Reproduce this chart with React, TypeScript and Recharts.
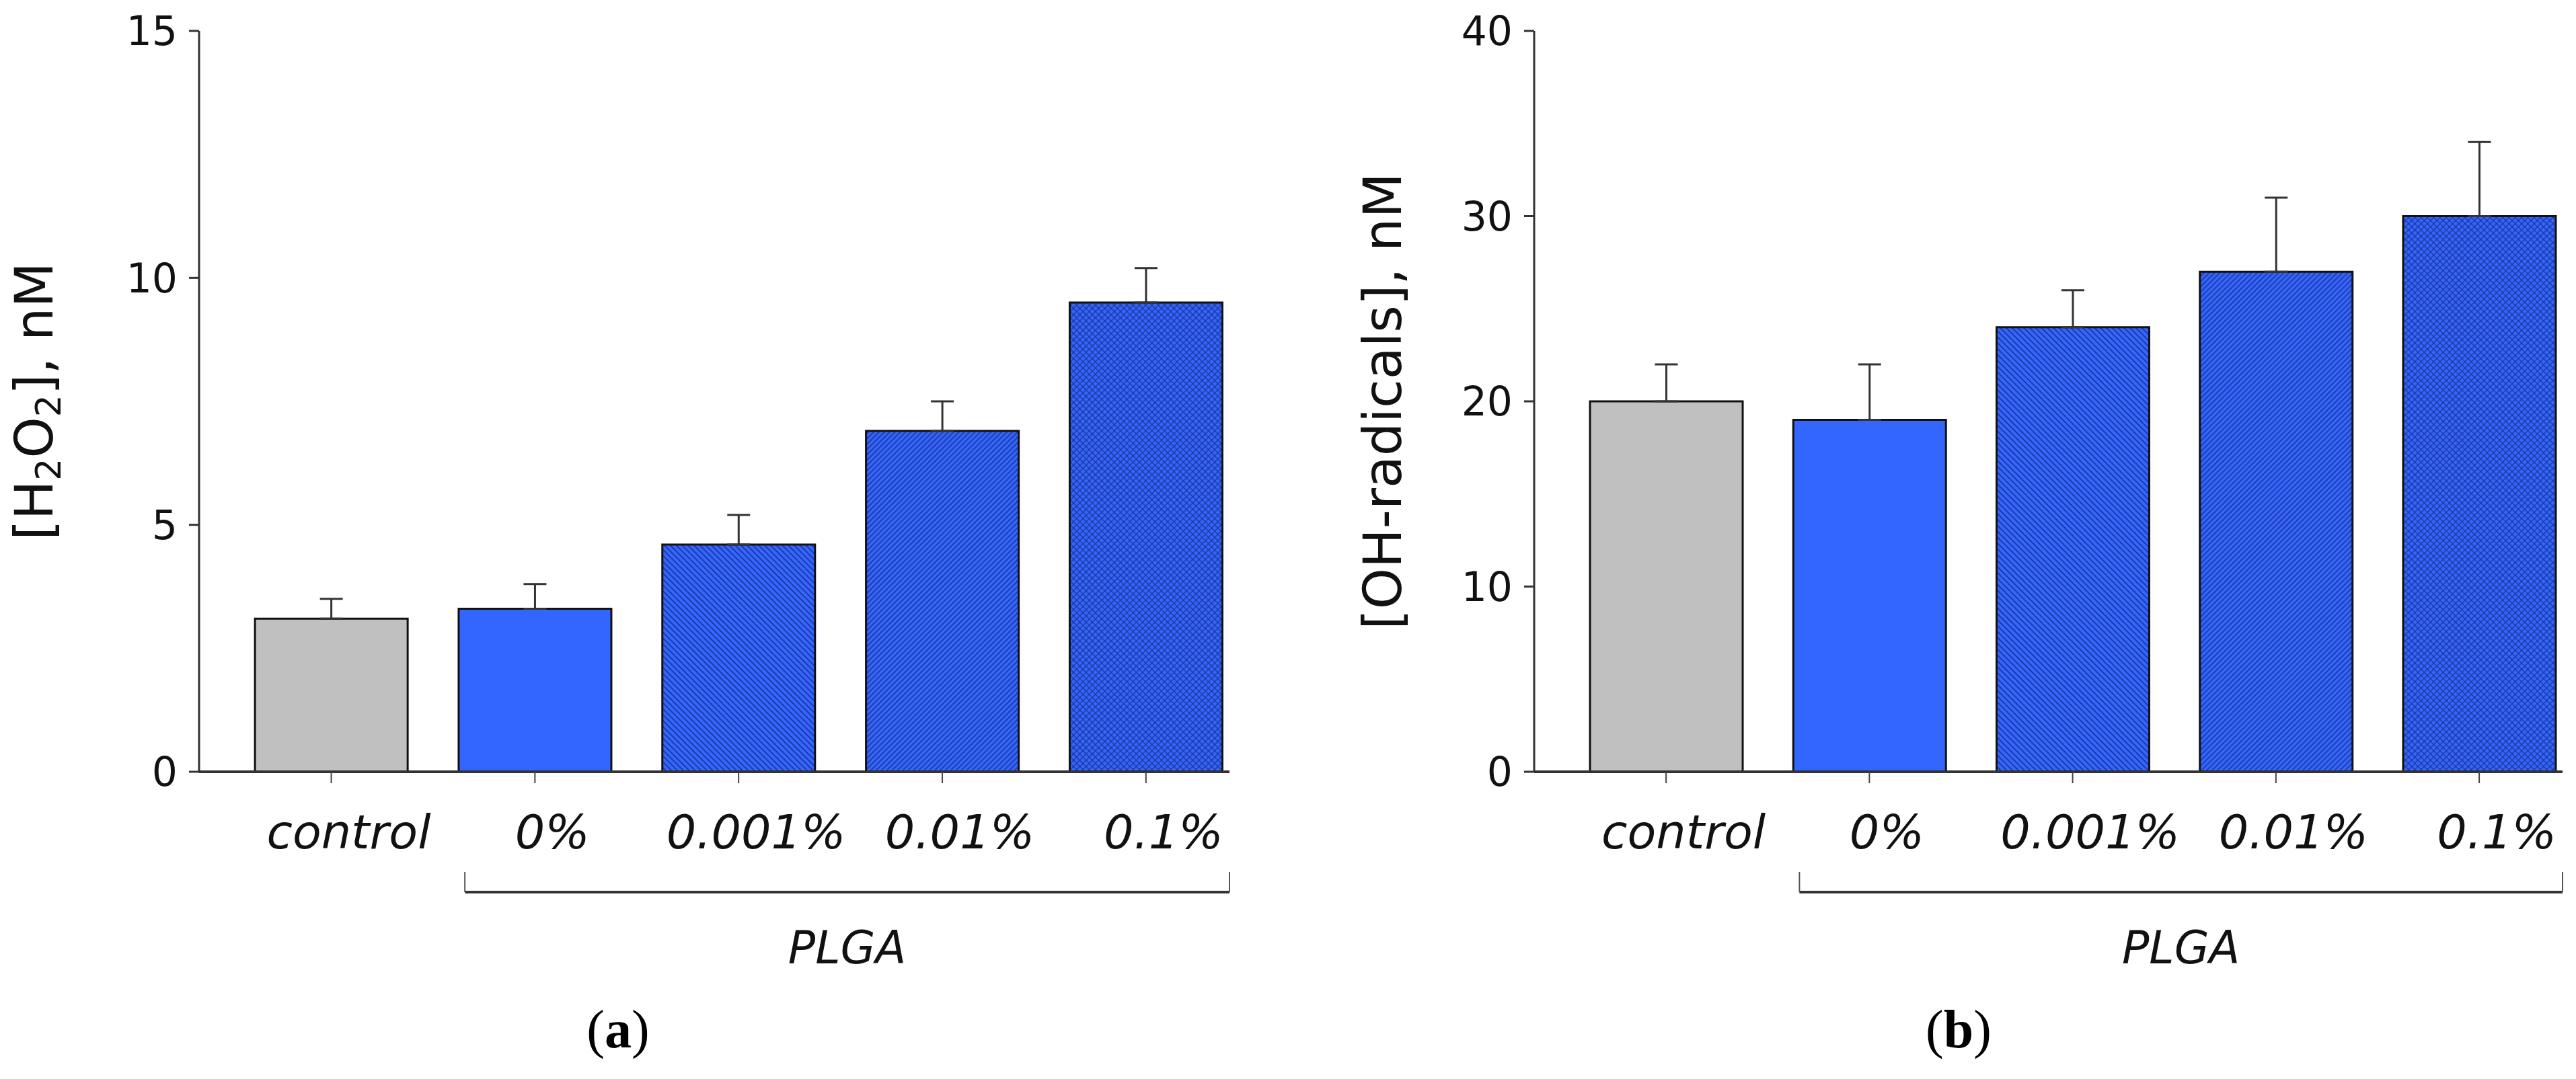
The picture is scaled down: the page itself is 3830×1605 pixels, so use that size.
import React from "react";
import { BarChart, Bar, XAxis, YAxis, Cell, ErrorBar, ReferenceLine, Label } from "recharts";

const categories = ["control", "0%", "0.001%", "0.01%", "0.1%"];
const positions = [0, 1, 2, 3, 4];

const h2o2Values = [3.1, 3.3, 4.6, 6.9, 9.5];
const h2o2Errors = [0.4, 0.5, 0.6, 0.6, 0.7];
const h2o2Ticks = [0, 5, 10, 15];

const ohValues = [20, 19, 24, 27, 30];
const ohErrors = [2, 3, 2, 4, 4];
const ohTicks = [0, 10, 20, 30, 40];

const FONT = "'DejaVu Sans', Verdana, sans-serif";
const BLUE = "#3366ff";
const HATCH = "#1c2f8c";

const CategoryTick = (props: any) => {
  const { x, y, payload } = props;
  return (
    <text
      x={x + 26}
      y={y}
      dy={97}
      textAnchor="middle"
      fontSize={70}
      fontStyle="italic"
      fill="#111"
      fontFamily={FONT}
    >
      {categories[payload.value]}
    </text>
  );
};

interface PanelProps {
  id: string;
  left: number;
  values: number[];
  errors: number[];
  ticks: number[];
  yLabel: React.ReactNode;
  labelDx: number;
  marginLeft: number;
  marginRight: number;
  letter: string;
  letterX: number;
}

const Panel: React.FC<PanelProps> = ({
  id,
  left,
  values,
  errors,
  ticks,
  yLabel,
  labelDx,
  marginLeft,
  marginRight,
  letter,
  letterX,
}) => {
  const data = positions.map((p, i) => ({
    pos: p,
    value: values[i],
    err: [0, errors[i]],
  }));
  const fills = [
    "#c0c0c0",
    BLUE,
    `url(#${id}-down)`,
    `url(#${id}-up)`,
    `url(#${id}-cross)`,
  ];
  const yMax = ticks[ticks.length - 1];
  const bracketY = -yMax * 0.1624;
  const bracketTop = -yMax * 0.1352;

  return (
    <div style={{ position: "absolute", left, top: 0, width: 1915, height: 1605 }}>
      <BarChart
        width={1915}
        height={1605}
        data={data}
        margin={{ top: 46, left: marginLeft, right: marginRight, bottom: 257 }}
      >
        <defs>
          <pattern id={`${id}-down`} patternUnits="userSpaceOnUse" width={6.2} height={6.2} patternTransform="rotate(-45)">
            <rect width={6.2} height={6.2} fill={BLUE} />
            <line x1={1} y1={0} x2={1} y2={6.2} stroke={HATCH} strokeWidth={1.6} />
          </pattern>
          <pattern id={`${id}-up`} patternUnits="userSpaceOnUse" width={5.6} height={5.6} patternTransform="rotate(45)">
            <rect width={5.6} height={5.6} fill={BLUE} />
            <line x1={1} y1={0} x2={1} y2={5.6} stroke={HATCH} strokeWidth={1.5} />
          </pattern>
          <pattern id={`${id}-cross`} patternUnits="userSpaceOnUse" width={6.6} height={6.6} patternTransform="rotate(45)">
            <rect width={6.6} height={6.6} fill={BLUE} />
            <line x1={1} y1={0} x2={1} y2={6.6} stroke={HATCH} strokeWidth={1.2} />
            <line x1={0} y1={1} x2={6.6} y2={1} stroke={HATCH} strokeWidth={1.2} />
          </pattern>
        </defs>
        <XAxis
          type="number"
          dataKey="pos"
          domain={[-0.649, 4.41]}
          allowDataOverflow
          ticks={positions}
          interval={0}
          height={200}
          tickSize={17}
          tickMargin={0}
          tick={<CategoryTick />}
          axisLine={{ stroke: "#333", strokeWidth: 4 }}
          tickLine={{ stroke: "#444", strokeWidth: 2 }}
        />
        <YAxis
          type="number"
          domain={[0, yMax]}
          ticks={ticks}
          interval={0}
          width={200}
          tickSize={15}
          tickMargin={17}
          tick={{ fontSize: 60, fill: "#111", fontFamily: FONT }}
          axisLine={{ stroke: "#333", strokeWidth: 3 }}
          tickLine={{ stroke: "#333", strokeWidth: 3 }}
        >
          <Label
            content={(props: any) => {
              const vb = props.viewBox || { x: 0, y: 0, height: 0 };
              const tx = vb.x + labelDx;
              const ty = vb.y + vb.height / 2;
              return (
                <text
                  x={tx}
                  y={ty}
                  transform={`rotate(-90, ${tx}, ${ty})`}
                  textAnchor="middle"
                  fontSize={78}
                  fill="#111"
                  fontFamily={FONT}
                >
                  {yLabel}
                </text>
              );
            }}
          />
        </YAxis>
        <Bar dataKey="value" barSize={227} stroke="#111" strokeWidth={3} isAnimationActive={false}>
          {data.map((entry, index) => (
            <Cell key={`cell-${index}`} fill={fills[index]} />
          ))}
          <ErrorBar dataKey="err" direction="y" width={17} stroke="#333" strokeWidth={3} isAnimationActive={false} />
        </Bar>
        <ReferenceLine
          segment={[
            { x: 0.656, y: bracketY },
            { x: 4.41, y: bracketY },
          ]}
          ifOverflow="visible"
          stroke="#333"
          strokeWidth={4}
          label={(props: any) => {
            const vb = props.viewBox || { x: 0, y: 0, width: 0 };
            return (
              <text
                x={vb.x + (vb.width || 0) / 2}
                y={vb.y + 106}
                textAnchor="middle"
                fontSize={67}
                fontStyle="italic"
                fill="#111"
                fontFamily={FONT}
              >
                PLGA
              </text>
            );
          }}
        />
        <ReferenceLine
          segment={[
            { x: 0.656, y: bracketY },
            { x: 0.656, y: bracketTop },
          ]}
          ifOverflow="visible"
          stroke="#555"
          strokeWidth={2}
        />
        <ReferenceLine
          segment={[
            { x: 4.41, y: bracketY },
            { x: 4.41, y: bracketTop },
          ]}
          ifOverflow="visible"
          stroke="#555"
          strokeWidth={2}
        />
      </BarChart>
      <div
        style={{
          position: "absolute",
          left: letterX - 100,
          top: 1491,
          width: 200,
          textAlign: "center",
          fontFamily: "'Liberation Serif', 'Times New Roman', serif",
          fontSize: 80,
          lineHeight: "80px",
          color: "#000",
        }}
      >
        (<b>{letter}</b>)
      </div>
    </div>
  );
};

const App: React.FC = () => {
  return (
    <div
      style={{
        position: "absolute",
        left: 0,
        top: 0,
        width: 3830,
        height: 1605,
        background: "#fff",
        fontFamily: FONT,
      }}
    >
      <Panel
        id="a"
        left={0}
        values={h2o2Values}
        errors={h2o2Errors}
        ticks={h2o2Ticks}
        labelDx={-18}
        marginLeft={96}
        marginRight={87}
        letter="a"
        letterX={919}
        yLabel={
          <>
            [H
            <tspan dy={12} fontSize={52}>2</tspan>
            <tspan dy={-12}>O</tspan>
            <tspan dy={12} fontSize={52}>2</tspan>
            <tspan dy={-12}>], nM</tspan>
          </>
        }
      />
      <Panel
        id="b"
        left={1915}
        values={ohValues}
        errors={ohErrors}
        ticks={ohTicks}
        labelDx={2}
        marginLeft={166}
        marginRight={20}
        letter="b"
        letterX={997}
        yLabel={<>[OH-radicals], nM</>}
      />
    </div>
  );
};

export default App;
